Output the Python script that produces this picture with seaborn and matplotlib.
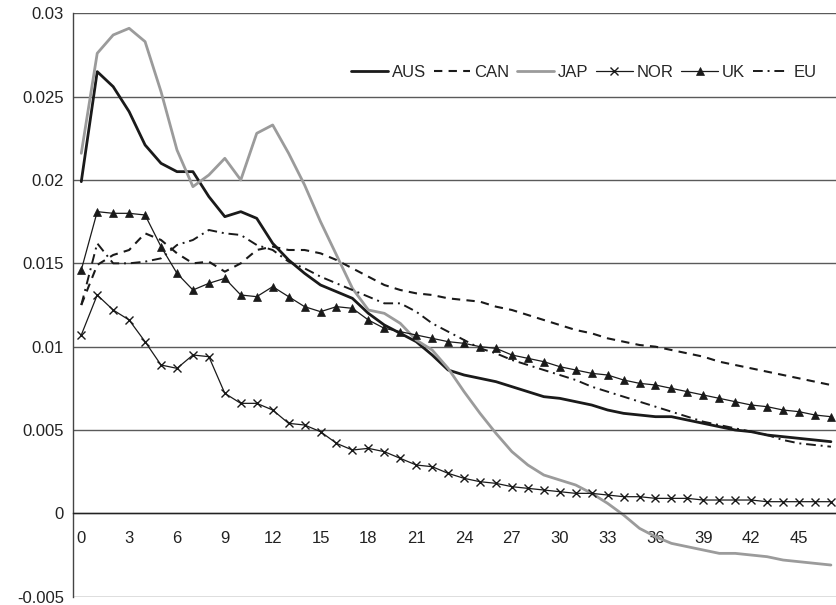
import numpy as np
import pandas as pd
import matplotlib
matplotlib.use("Agg")
import matplotlib.pyplot as plt
import seaborn as sns

periods = list(range(48))
tick_labels = [str(v) for v in range(0, 48, 3)]
y_ticks = [-0.005, 0.0, 0.005, 0.01, 0.015, 0.02, 0.025, 0.03]
y_tick_labels = ["-0.005", "0", "0.005", "0.01", "0.015", "0.02", "0.025", "0.03"]

aus = [0.0199, 0.0265, 0.0256, 0.0241, 0.0221, 0.0210, 0.0205, 0.0205, 0.0190, 0.0178,
       0.0181, 0.0177, 0.0162, 0.0152, 0.0144, 0.0137, 0.0133, 0.0129, 0.0120, 0.0113,
       0.0108, 0.0103, 0.0095, 0.0086, 0.0083, 0.0081, 0.0079, 0.0076, 0.0073, 0.0070,
       0.0069, 0.0067, 0.0065, 0.0062, 0.0060, 0.0059, 0.0058, 0.0058, 0.0056, 0.0054,
       0.0052, 0.0050, 0.0049, 0.0047, 0.0046, 0.0045, 0.0044, 0.0043]
can = [0.0125, 0.0149, 0.0155, 0.0158, 0.0168, 0.0164, 0.0156, 0.0150, 0.0151, 0.0145,
       0.0150, 0.0158, 0.0160, 0.0158, 0.0158, 0.0156, 0.0152, 0.0147, 0.0142, 0.0137,
       0.0134, 0.0132, 0.0131, 0.0129, 0.0128, 0.0127, 0.0124, 0.0122, 0.0119, 0.0116,
       0.0113, 0.0110, 0.0108, 0.0105, 0.0103, 0.0101, 0.0100, 0.0098, 0.0096, 0.0094,
       0.0091, 0.0089, 0.0087, 0.0085, 0.0083, 0.0081, 0.0079, 0.0077]
jap = [0.0216, 0.0276, 0.0287, 0.0291, 0.0283, 0.0253, 0.0218, 0.0196, 0.0203, 0.0213,
       0.0200, 0.0228, 0.0233, 0.0216, 0.0197, 0.0175, 0.0155, 0.0135, 0.0122, 0.0120,
       0.0114, 0.0104, 0.0098, 0.0087, 0.0073, 0.0060, 0.0048, 0.0037, 0.0029, 0.0023,
       0.0020, 0.0017, 0.0012, 0.0006, -0.0001, -0.0009, -0.0014, -0.0018, -0.0020, -0.0022,
       -0.0024, -0.0024, -0.0025, -0.0026, -0.0028, -0.0029, -0.0030, -0.0031]
nor = [0.0107, 0.0131, 0.0122, 0.0116, 0.0103, 0.0089, 0.0087, 0.0095, 0.0094, 0.0072,
       0.0066, 0.0066, 0.0062, 0.0054, 0.0053, 0.0049, 0.0042, 0.0038, 0.0039, 0.0037,
       0.0033, 0.0029, 0.0028, 0.0024, 0.0021, 0.0019, 0.0018, 0.0016, 0.0015, 0.0014,
       0.0013, 0.0012, 0.0012, 0.0011, 0.0010, 0.0010, 0.0009, 0.0009, 0.0009, 0.0008,
       0.0008, 0.0008, 0.0008, 0.0007, 0.0007, 0.0007, 0.0007, 0.0007]
uk = [0.0146, 0.0181, 0.0180, 0.0180, 0.0179, 0.0160, 0.0144, 0.0134, 0.0138, 0.0141,
      0.0131, 0.0130, 0.0136, 0.0130, 0.0124, 0.0121, 0.0124, 0.0123, 0.0116, 0.0111,
      0.0109, 0.0107, 0.0105, 0.0103, 0.0102, 0.0100, 0.0099, 0.0095, 0.0093, 0.0091,
      0.0088, 0.0086, 0.0084, 0.0083, 0.0080, 0.0078, 0.0077, 0.0075, 0.0073, 0.0071,
      0.0069, 0.0067, 0.0065, 0.0064, 0.0062, 0.0061, 0.0059, 0.0058]
eu = [0.0125, 0.0162, 0.0150, 0.0150, 0.0151, 0.0153, 0.0161, 0.0164, 0.0170, 0.0168,
      0.0167, 0.0161, 0.0158, 0.0151, 0.0147, 0.0142, 0.0138, 0.0134, 0.0130, 0.0126,
      0.0126, 0.0121, 0.0114, 0.0109, 0.0104, 0.0099, 0.0096, 0.0092, 0.0089, 0.0086,
      0.0083, 0.0080, 0.0076, 0.0073, 0.0070, 0.0067, 0.0064, 0.0061, 0.0058, 0.0055,
      0.0053, 0.0051, 0.0049, 0.0047, 0.0044, 0.0042, 0.0041, 0.0040]

sns.set_style("white")
plt.rcParams["font.family"] = ["Liberation Sans", "DejaVu Sans"]

fig = plt.figure(figsize=(8.36, 6.05), dpi=100)
ax = fig.add_axes([73.3 / 836, 1 - 596.7 / 605, 765.6 / 836, 583.4 / 605])

series = [
    ("AUS", aus, dict(color="#1a1a1a", linewidth=2.0, linestyle="-")),
    ("CAN", can, dict(color="#1a1a1a", linewidth=1.5, linestyle=(0, (4, 3)))),
    ("JAP", jap, dict(color="#9b9b9b", linewidth=2.0, linestyle="-")),
    ("NOR", nor, dict(color="#1a1a1a", linewidth=0.9, linestyle="-", marker="x",
                      markersize=5.5, markeredgewidth=1.0, markeredgecolor="#1a1a1a")),
    ("UK", uk, dict(color="#1a1a1a", linewidth=0.9, linestyle="-", marker="^",
                    markersize=6, markeredgewidth=0.5, markeredgecolor="#1a1a1a",
                    markerfacecolor="#1a1a1a")),
    ("EU", eu, dict(color="#1a1a1a", linewidth=1.4, linestyle=(0, (5, 2.5, 1, 2.5)))),
]

for name, vals, style in series:
    df = pd.DataFrame({"period": periods, "value": vals})
    sns.lineplot(data=df, x="period", y="value", ax=ax, label=name, **style)

ax.set_xlim(-0.5, 47.5)
ax.set_ylim(-0.005, 0.03)
ax.set_yticks(y_ticks)
ax.set_yticklabels(y_tick_labels)
ax.set_xticks(list(range(0, 48, 3)))
ax.set_xticklabels(tick_labels)
ax.set_xticks(np.arange(0.5, 47.5, 1), minor=True)
ax.set_xlabel("")
ax.set_ylabel("")

ax.set_axisbelow(True)
ax.yaxis.grid(True, color="#5a5a5a", linewidth=1.0)
ax.xaxis.grid(False)

for s in ["top", "right"]:
    ax.spines[s].set_visible(False)
ax.spines["left"].set_color("#444444")
ax.spines["left"].set_linewidth(1.0)
ax.spines["bottom"].set_position(("data", 0))
ax.spines["bottom"].set_color("#222222")
ax.spines["bottom"].set_linewidth(1.0)

ax.tick_params(axis="x", which="major", length=0, pad=13, labelsize=12, labelcolor="#222222")
ax.tick_params(axis="x", which="minor", length=6, width=0.8, color="#333333", direction="out")
ax.tick_params(axis="y", which="major", length=0, pad=6.7, labelsize=12, labelcolor="#222222")

leg = ax.legend(loc="center", bbox_to_anchor=(0.667, 0.899), ncol=6, frameon=False,
                fontsize=12, handlelength=2.2, handletextpad=0.25, columnspacing=0.45,
                borderaxespad=0)

fig.savefig("out.png", dpi=100)
